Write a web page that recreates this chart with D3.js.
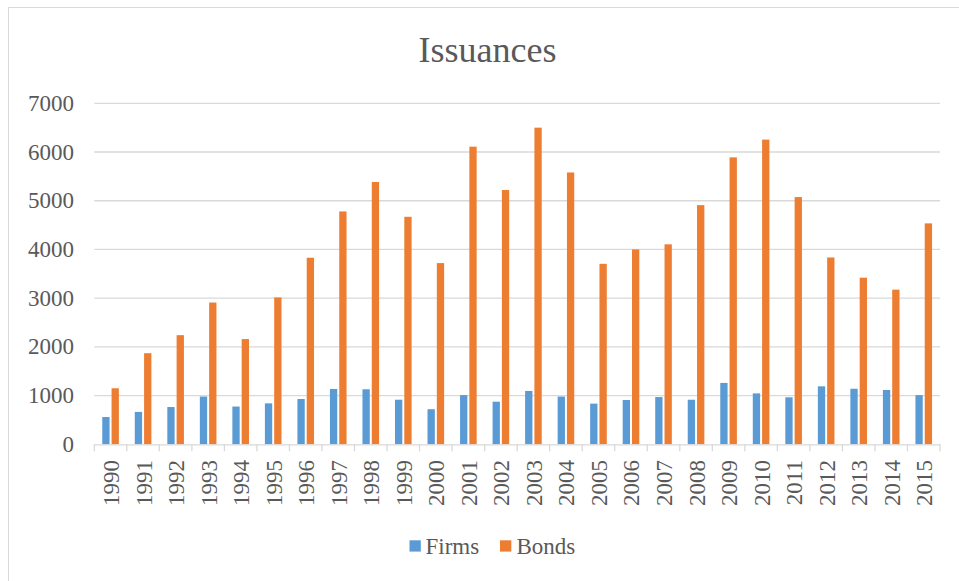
<!DOCTYPE html>
<html>
<head>
<meta charset="utf-8">
<script src="https://cdn.jsdelivr.net/npm/d3@7"></script>
<style>
  html, body { margin: 0; padding: 0; background: #fff; }
  svg { display: block; }
</style>
</head>
<body>
<svg id="chart" width="959" height="581"></svg>
<script>
const years = ["1990","1991","1992","1993","1994","1995","1996","1997","1998","1999","2000","2001","2002","2003","2004","2005","2006","2007","2008","2009","2010","2011","2012","2013","2014","2015"];
const firms = [560, 665, 765, 980, 775, 840, 930, 1135, 1130, 915, 720, 1010, 875, 1095, 980, 835, 910, 970, 915, 1260, 1045, 965, 1190, 1140, 1115, 1010];
const bonds = [1150, 1870, 2240, 2910, 2160, 3015, 3830, 4780, 5385, 4670, 3720, 6110, 5220, 6500, 5580, 3705, 4000, 4105, 4910, 5890, 6255, 5075, 3835, 3420, 3175, 4535];
const seriesNames = ["Firms", "Bonds"];
const seriesColors = ["#5b9bd5", "#ed7d31"];
const yTicks = [0, 1000, 2000, 3000, 4000, 5000, 6000, 7000];
const title = "Issuances";

const FONT = "'Liberation Serif'";
const textColor = "#595959";
const svg = d3.select("#chart");

svg.append("rect")
  .attr("x", 8.5).attr("y", 7.5)
  .attr("width", 1000).attr("height", 700)
  .attr("fill", "none").attr("stroke", "#d9d9d9").attr("stroke-width", 1);

const plot = { left: 94.3, right: 940, top: 103.3, bottom: 444.3 };

const x = d3.scaleBand().domain(years).range([plot.left, plot.right]).paddingInner(0).paddingOuter(0);
const xs = d3.scaleBand().domain(seriesNames).range([0, x.bandwidth()]).paddingInner(0.215).paddingOuter(0.855);
const y = d3.scaleLinear().domain([0, 7000]).range([plot.bottom, plot.top]);

svg.append("g").selectAll("line").data(yTicks.filter(d => d > 0)).join("line")
  .attr("x1", plot.left).attr("x2", plot.right)
  .attr("y1", d => y(d)).attr("y2", d => y(d))
  .attr("stroke", "#d9d9d9").attr("stroke-width", 1.3);

svg.append("g").selectAll("text").data(yTicks).join("text")
  .attr("x", 74).attr("y", d => y(d))
  .attr("text-anchor", "end").attr("dominant-baseline", "central")
  .attr("font-family", FONT).attr("font-size", 23).attr("fill", textColor)
  .text(d => d);

const data = years.map((yr, i) => ({ year: yr, values: [firms[i], bonds[i]] }));
const groups = svg.append("g").selectAll("g").data(data).join("g")
  .attr("transform", d => `translate(${x(d.year)},0)`);
groups.selectAll("rect").data(d => d.values.map((v, j) => ({ name: seriesNames[j], value: v, color: seriesColors[j] })))
  .join("rect")
  .attr("x", d => xs(d.name))
  .attr("width", xs.bandwidth())
  .attr("y", d => y(d.value))
  .attr("height", d => y(0) - y(d.value))
  .attr("fill", d => d.color);

const xAxis = svg.append("g");
xAxis.append("line")
  .attr("x1", plot.left).attr("x2", plot.right)
  .attr("y1", plot.bottom + 0.5).attr("y2", plot.bottom + 0.5)
  .attr("stroke", "#d9d9d9").attr("stroke-width", 1.3);
const boundaries = years.map(yr => x(yr)).concat([plot.right]);
xAxis.selectAll("line.tick").data(boundaries).join("line")
  .attr("class", "tick")
  .attr("x1", d => d).attr("x2", d => d)
  .attr("y1", plot.bottom).attr("y2", plot.bottom + 7)
  .attr("stroke", "#d9d9d9").attr("stroke-width", 1.3);

xAxis.selectAll("text").data(years).join("text")
  .attr("transform", d => `translate(${x(d) + x.bandwidth() / 2 + 1},460) rotate(-90)`)
  .attr("text-anchor", "end").attr("dominant-baseline", "central")
  .attr("font-family", FONT).attr("font-size", 23).attr("fill", textColor)
  .text(d => d);

svg.append("text")
  .attr("x", 487.5).attr("y", 61.5)
  .attr("text-anchor", "middle")
  .attr("font-family", FONT).attr("font-size", 36).attr("fill", textColor)
  .text(title);

const legendItems = [
  { name: "Firms", color: seriesColors[0], sx: 409.5, tx: 425.5 },
  { name: "Bonds", color: seriesColors[1], sx: 500, tx: 516.5 }
];
const lg = svg.append("g");
lg.selectAll("rect").data(legendItems).join("rect")
  .attr("x", d => d.sx).attr("y", 540.3).attr("width", 11.3).attr("height", 11.3)
  .attr("fill", d => d.color);
lg.selectAll("text").data(legendItems).join("text")
  .attr("x", d => d.tx).attr("y", 554)
  .attr("font-family", FONT).attr("font-size", 23).attr("fill", textColor)
  .text(d => d.name);
</script>
</body>
</html>
